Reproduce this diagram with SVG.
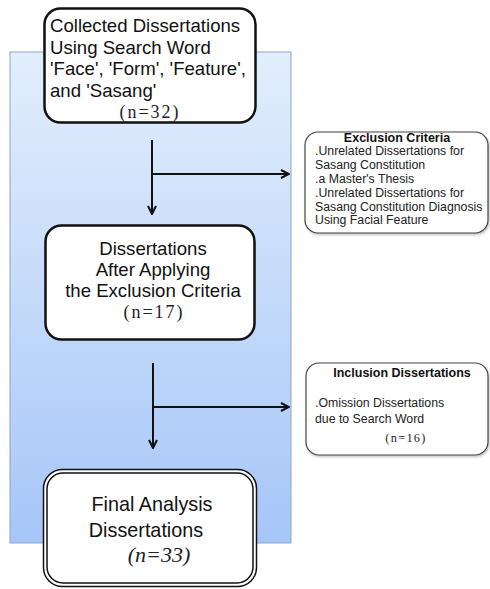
<svg xmlns="http://www.w3.org/2000/svg" width="490" height="589" viewBox="0 0 490 589">
<style>
.sans{font-family:"Liberation Sans","DejaVu Sans",Arial,sans-serif;fill:#111}
.serif{font-family:"Liberation Serif","DejaVu Serif",serif;fill:#222}
.main{font-size:18.6px}
.num{font-size:18px;letter-spacing:2px}
.side{font-size:12.3px;fill:#222}
.title{font-size:12.5px;font-weight:bold;fill:#111}
.node{fill:#fff;stroke:#111;stroke-width:2.5}
.sidebox{fill:#fff;stroke:#444;stroke-width:1.2;filter:url(#sh)}
.conn{stroke:#111;stroke-width:2;fill:none}
</style>
<defs>
<linearGradient id="bg" x1="0" y1="0" x2="0" y2="1">
<stop offset="0" stop-color="#e3eefc"/>
<stop offset="1" stop-color="#a6c6f8"/>
</linearGradient>
<marker id="arr" viewBox="0 0 10 10" refX="9" refY="5" markerWidth="10" markerHeight="10" markerUnits="userSpaceOnUse" orient="auto">
<path d="M1,1 L9,5 L1,9" fill="none" stroke="#111" stroke-width="2"/>
</marker>
<filter id="sh" x="-5%" y="-5%" width="115%" height="120%">
<feDropShadow dx="1" dy="1.5" stdDeviation="1" flood-color="#000" flood-opacity="0.25"/>
</filter>
</defs>
<rect id="panel" x="10" y="52" width="281" height="491" fill="url(#bg)" stroke="#8aa6c8" stroke-width="1"/>
<g id="connectors">
<line class="conn" x1="152" y1="140" x2="152" y2="214" marker-end="url(#arr)"/>
<line class="conn" x1="152" y1="174" x2="289" y2="174" marker-end="url(#arr)"/>
<line class="conn" x1="153" y1="363" x2="153" y2="448" marker-end="url(#arr)"/>
<line class="conn" x1="153" y1="407" x2="289" y2="407" marker-end="url(#arr)"/>
</g>
<g id="collected">
<rect class="node" x="44.5" y="8.5" width="211" height="114" rx="16"/>
<text class="sans main" x="50" y="32">Collected Dissertations</text>
<text class="sans main" x="50" y="54">Using Search Word</text>
<text class="sans main" x="50" y="75">'Face', 'Form', 'Feature',</text>
<text class="sans main" x="50" y="97">and 'Sasang'</text>
<text class="serif num" x="150" y="118" text-anchor="middle">(n=32)</text>
</g>
<g id="exclusion">
<rect class="sidebox" x="305" y="132" width="183" height="101" rx="13"/>
<text class="sans title" x="397" y="142" text-anchor="middle">Exclusion Criteria</text>
<text class="sans side" x="315" y="155">.Unrelated Dissertations for</text>
<text class="sans side" x="315" y="169">Sasang Constitution</text>
<text class="sans side" x="315" y="183">.a Master's Thesis</text>
<text class="sans side" x="315" y="197">.Unrelated Dissertations for</text>
<text class="sans side" x="315" y="211">Sasang Constitution Diagnosis</text>
<text class="sans side" x="315" y="224">Using Facial Feature</text>
</g>
<g id="after">
<rect class="node" x="45.5" y="225.5" width="209" height="114" rx="16"/>
<text class="sans main" x="153" y="255" text-anchor="middle">Dissertations</text>
<text class="sans main" x="153" y="276" text-anchor="middle">After Applying</text>
<text class="sans main" x="153" y="297" text-anchor="middle">the Exclusion Criteria</text>
<text class="serif num" x="154" y="318" text-anchor="middle">(n=17)</text>
</g>
<g id="inclusion">
<rect class="sidebox" x="306" y="363" width="182" height="92" rx="13"/>
<text class="sans title" x="402" y="377" text-anchor="middle">Inclusion Dissertations</text>
<text class="sans side" x="315" y="407">.Omission Dissertations</text>
<text class="sans side" x="315" y="423">due to Search Word</text>
<text class="serif side" x="406" y="442" text-anchor="middle" letter-spacing="1.3">(n=16)</text>
</g>
<g id="final">
<rect x="43.5" y="469.5" width="213" height="117" rx="19" fill="#fff" stroke="#111" stroke-width="1.5"/>
<rect x="47" y="473" width="206" height="110" rx="16" fill="none" stroke="#111" stroke-width="1.5"/>
<text class="sans" font-size="19.8" x="152" y="511" text-anchor="middle">Final Analysis</text>
<text class="sans" font-size="19.8" x="146" y="537" text-anchor="middle">Dissertations</text>
<text class="serif" font-size="22" font-style="italic" x="159" y="562" text-anchor="middle">(n=33)</text>
</g>
</svg>
